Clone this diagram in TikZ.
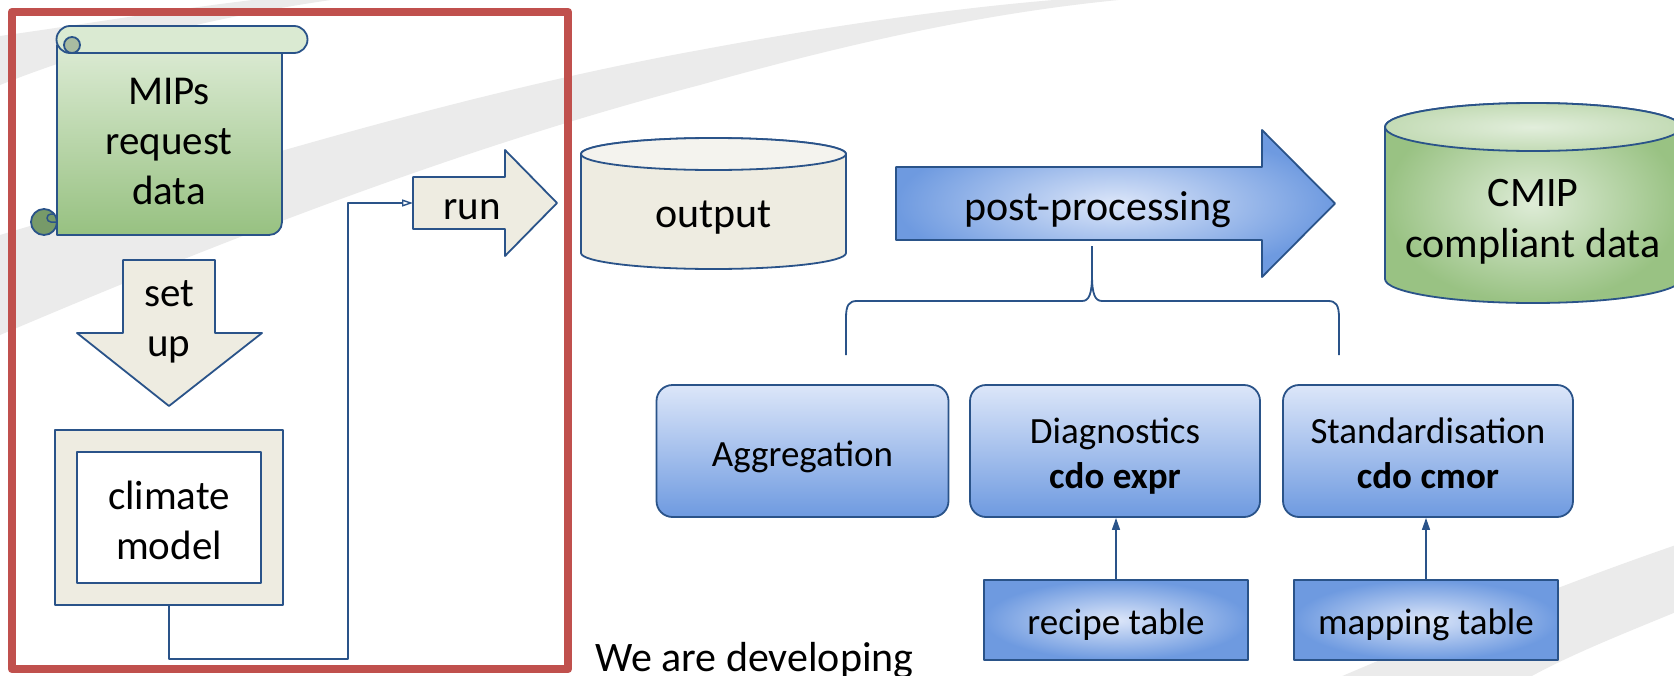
\documentclass[tikz,border=0pt]{standalone}
\usepackage{fontspec}
\setmainfont{Carlito}
\usetikzlibrary{arrows.meta}
\definecolor{ol}{HTML}{2A5389}
\definecolor{beige}{HTML}{EEECE1}
\definecolor{outtop}{HTML}{F4F3EE}
\definecolor{redbox}{HTML}{C0504D}
\definecolor{bandgray}{HTML}{EBEBEB}
\definecolor{blueL}{HTML}{DCE6F9}
\definecolor{blueD}{HTML}{6E9AE0}
\definecolor{greenL}{HTML}{DEECD7}
\definecolor{greenD}{HTML}{99C283}
\definecolor{greenTopL}{HTML}{E2EEDC}
\definecolor{greenTopD}{HTML}{C3DBB5}
\definecolor{scrollTop}{HTML}{DCEBD4}
\definecolor{scrollBot}{HTML}{97C181}
\definecolor{rollgreen}{HTML}{DAEAD2}
\definecolor{curlA}{HTML}{A9BBA1}
\definecolor{curlB}{HTML}{779A69}
\newcommand\txtA{\fontsize{41pt}{50pt}\selectfont}
\newcommand\txtB{\fontsize{42pt}{51pt}\selectfont}
\newcommand\txtC{\fontsize{37pt}{45pt}\selectfont}
\begin{document}
\begin{tikzpicture}[x=1pt,y=-1pt,line join=round,
  shapeline/.style={draw=ol,line width=1.8pt},
  conn/.style={draw=ol,line width=1.4pt},
  lbl/.style={inner sep=0pt,align=center,text=black},
  bluebox/.style={shapeline,rounded corners=16pt,top color=blueL,bottom color=blueD,inner sep=0pt},
  tablebox/.style={shapeline,inner color=blueL,outer color=blueD,inner sep=0pt}]
\useasboundingbox (0,0) rectangle (1674,675);
\clip (0,0) rectangle (1674,675);
\fill[white] (0,0) rectangle (1674,675);
% background swooshes
\fill[bandgray] (0,235) .. controls (200,175) and (450,95) .. (700,50)
  .. controls (850,22) and (980,5) .. (1080,-2) -- (1140,-2)
  .. controls (1000,10) and (860,40) .. (700,85)
  .. controls (450,150) and (200,250) .. (0,335) -- cycle;
\fill[bandgray] (0,36) .. controls (80,25) and (180,8) .. (270,-2) -- (345,-2)
  .. controls (220,15) and (100,45) .. (0,85) -- cycle;
\fill[bandgray] (1340,677) .. controls (1450,630) and (1560,585) .. (1676,545)
  -- (1676,612) .. controls (1620,635) and (1570,655) .. (1530,677) -- cycle;
% red frame
\draw[redbox,line width=8.5pt] (12,12) rectangle (568,669);
% scroll
\draw[shapeline,top color=scrollTop,bottom color=scrollBot] (57,45) -- (57,235) -- (269,235)
  arc[start angle=-90,end angle=0,radius=13pt] -- (282,45) -- cycle;
\draw[shapeline,fill=curlB] (44,222) circle[radius=13pt];
\draw[ol,line width=1.5pt] (57,222) -- (51,222) arc[start angle=270,end angle=90,radius=4pt] -- (55,214);
\draw[shapeline,fill=rollgreen] (70,26) -- (294,26) arc[start angle=90,end angle=-90,radius=13.5pt]
  -- (70,53) arc[start angle=-90,end angle=-270,radius=13.5pt] -- cycle;
\draw[shapeline,fill=curlA] (72,45) circle[radius=8pt];
\node[lbl,font=\txtA] (mips) at (169,144) {\strut MIPs\\\strut request\\\strut data};
% set up arrow
\draw[shapeline,fill=beige] (123,260) -- (215,260) -- (215,333) -- (262,333) -- (169,406)
  -- (77,333) -- (123,333) -- cycle;
\node[lbl,font=\txtA] (setup) at (169,321) {\strut set\\\strut up};
% climate model
\node[shapeline,fill=beige,minimum width=228pt,minimum height=175pt,inner sep=0pt] (cmouter) at (169,517.5) {};
\node[shapeline,fill=white,minimum width=184pt,minimum height=131pt,inner sep=0pt] (cminner) at (169,517.5) {};
\node[lbl,font=\txtA] (climate) at (169,524) {\strut climate\\\strut model};
% run arrow
\draw[shapeline,fill=beige] (413,177) -- (505,177) -- (505,150) -- (557,203) -- (505,256)
  -- (505,229) -- (413,229) -- cycle;
\coordinate (runtail) at (413,203);
\node[lbl,font=\txtA] (run) at (472,209) {\strut run};
\coordinate (bend) at (348,659);
\draw[conn,-{Triangle[open,length=11pt,width=7pt]}] (cmouter.south) |- (bend) |- (runtail);
% output cylinder
\draw[shapeline,fill=beige] (581,154) -- (581,253)
  arc[start angle=180,end angle=360,x radius=132.5pt,y radius=16pt] -- (846,154)
  arc[start angle=0,end angle=180,x radius=132.5pt,y radius=16pt] -- cycle;
\draw[shapeline,fill=outtop] (713.5,154) ellipse[x radius=132.5pt,y radius=16pt];
\node[lbl,font=\txtB] (output) at (713.5,217) {\strut output};
% post-processing arrow
\draw[shapeline,inner color=blueL,outer color=blueD] (896,167) -- (1262,167) -- (1262,130)
  -- (1335,203.5) -- (1262,277) -- (1262,240) -- (896,240) -- cycle;
\node[lbl,font=\txtB] (post) at (1098,210) {\strut post-processing};
% CMIP cylinder
\draw[shapeline,inner color=greenL,outer color=greenD] (1385,127) -- (1385,279)
  arc[start angle=180,end angle=360,x radius=148pt,y radius=24pt] -- (1681,127)
  arc[start angle=0,end angle=180,x radius=148pt,y radius=24pt] -- cycle;
\draw[shapeline,inner color=greenTopL,outer color=greenTopD] (1533,127) ellipse[x radius=148pt,y radius=24pt];
\node[lbl,font=\txtB] (cmip) at (1533,222) {\strut CMIP\\\strut compliant data};
% brace
\coordinate (bstem) at (1092,246);
\coordinate (bleft) at (846,355);
\coordinate (bright) at (1339,355);
\draw[draw=ol,line width=1.8pt] (bleft) -- (846,318) .. controls (846,305) and (849,301) .. (857,301)
  -- (1082,301) .. controls (1089,301) and (1092,294) .. (1092,275) -- (bstem);
\draw[draw=ol,line width=1.8pt] (1092,275) .. controls (1092,294) and (1095,301) .. (1102,301)
  -- (1328,301) .. controls (1336,301) and (1339,305) .. (1339,318) -- (bright);
% process boxes
\node[bluebox,minimum width=292pt,minimum height=132pt] (aggbox) at (802.5,451) {};
\node[bluebox,minimum width=290pt,minimum height=132pt] (diagbox) at (1115,451) {};
\node[bluebox,minimum width=290pt,minimum height=132pt] (standbox) at (1428,451) {};
\node[lbl,font=\txtC] (agg) at (802.5,457) {\strut Aggregation};
\node[lbl,font=\txtC] (diag) at (1115,457) {\strut Diagnostics\\\strut\textbf{cdo expr}};
\node[lbl,font=\txtC] (stand) at (1428,457) {\strut Standardisation\\\strut\textbf{cdo cmor}};
% tables
\node[tablebox,minimum width=264pt,minimum height=80pt] (recipebox) at (1116,620) {};
\node[tablebox,minimum width=264pt,minimum height=80pt] (mapbox) at (1426,620) {};
\node[lbl,font=\txtC] (recipe) at (1116,625) {\strut recipe table};
\node[lbl,font=\txtC] (mapping) at (1426,625) {\strut mapping table};
\draw[conn,-{Triangle[length=12pt,width=8pt]}] (recipebox.north) -- (recipebox.north |- diagbox.south);
\draw[conn,-{Triangle[length=12pt,width=8pt]}] (mapbox.north) -- (mapbox.north |- standbox.south);
% bottom text
\node[lbl,font=\txtB,anchor=base west] (dev) at (595,671) {We are developing};
\end{tikzpicture}
\end{document}
